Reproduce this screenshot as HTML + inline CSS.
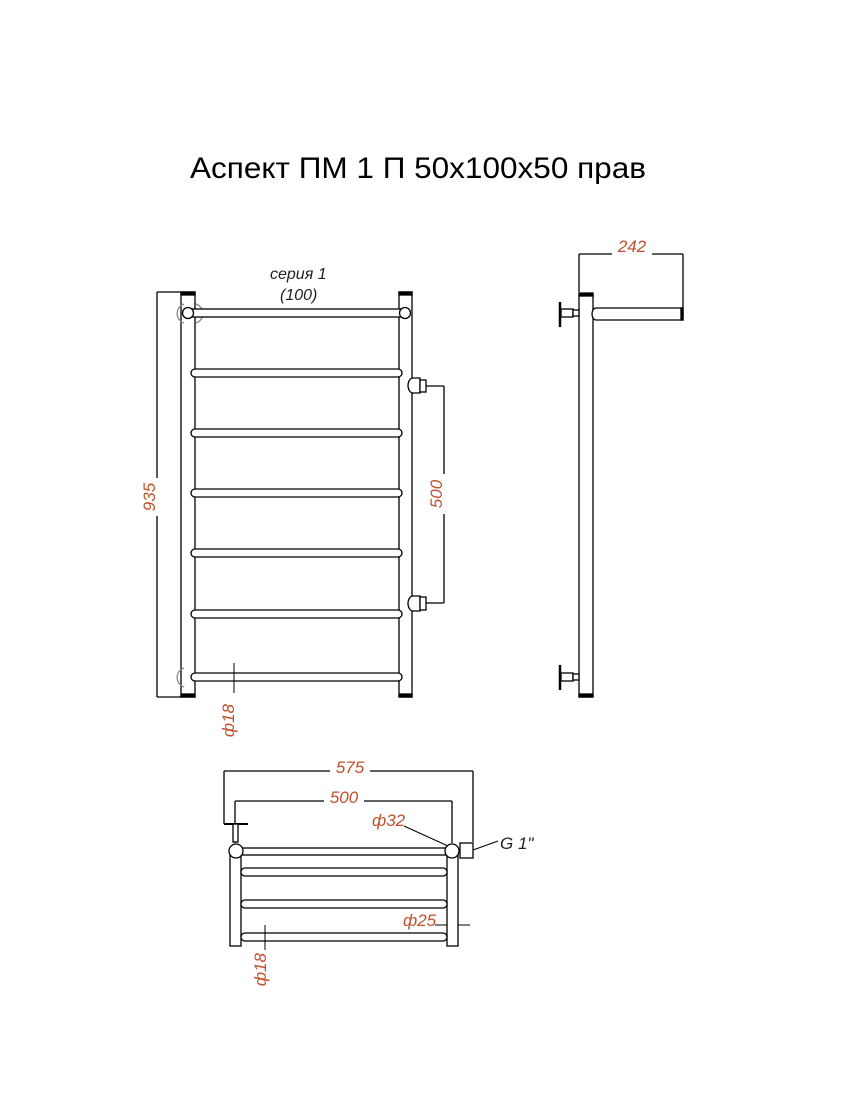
<!DOCTYPE html>
<html><head><meta charset="utf-8"><style>
html,body{margin:0;padding:0;background:#fff;width:850px;height:1112px;overflow:hidden}
svg{display:block}
.d{fill:#c0502a;font-family:"Liberation Sans",sans-serif;font-style:italic;font-size:17px}
</style></head><body>
<svg width="850" height="1112" viewBox="0 0 850 1112" xmlns="http://www.w3.org/2000/svg">
<text x="190" y="178" font-family="Liberation Sans, sans-serif" font-size="30" textLength="456" lengthAdjust="spacingAndGlyphs" fill="#000">Аспект ПМ 1 П 50х100х50 прав</text>

<g stroke="#000" stroke-width="1.3" fill="none">
<!-- front view -->
<line x1="157" y1="292" x2="157" y2="697"/>
<line x1="157" y1="292" x2="181" y2="292"/>
<line x1="157" y1="697" x2="181" y2="697"/>
<rect x="181" y="292" width="14" height="405" fill="#fff"/>
<rect x="399" y="292" width="13" height="405" fill="#fff"/>
<rect x="181" y="292" width="14" height="3" fill="#000"/>
<rect x="399" y="292" width="13" height="3" fill="#000"/>
<rect x="181" y="694" width="14" height="3" fill="#000"/>
<rect x="399" y="694" width="13" height="3" fill="#000"/>
<path d="M184 304 A10 10 0 0 0 184 323" stroke="#888"/>
<path d="M196 304 A10 10 0 0 1 196 323" stroke="#888"/>
<path d="M184 668 A10 10 0 0 0 184 687" stroke="#888"/>
<rect x="188" y="309" width="217" height="8" fill="#fff"/>
<circle cx="188" cy="313" r="5.5" fill="#fff"/>
<circle cx="405" cy="313" r="5.5" fill="#fff"/>
<rect x="191" y="369" width="211" height="8" rx="4" fill="#fff"/>
<rect x="191" y="429" width="211" height="8" rx="4" fill="#fff"/>
<rect x="191" y="489" width="211" height="8" rx="4" fill="#fff"/>
<rect x="191" y="549" width="211" height="8" rx="4" fill="#fff"/>
<rect x="191" y="610" width="211" height="8" rx="4" fill="#fff"/>
<rect x="191" y="673" width="211" height="8" rx="4" fill="#fff"/>
<path d="M420 378 H413 A5 7.5 0 0 0 413 393 H420 Z" fill="#fff"/>
<rect x="420" y="380" width="6" height="12" fill="#fff"/>
<path d="M420 596 H413 A5 7.5 0 0 0 413 611 H420 Z" fill="#fff"/>
<rect x="420" y="597" width="6" height="13" fill="#fff"/>
<line x1="426" y1="386" x2="444" y2="386"/>
<line x1="426" y1="603" x2="444" y2="603"/>
<line x1="444" y1="386" x2="444" y2="603"/>
<line x1="234" y1="663" x2="234" y2="693" stroke-width="1"/>

<!-- side view -->
<line x1="579" y1="254" x2="683" y2="254"/>
<line x1="579" y1="254" x2="579" y2="292"/>
<line x1="683" y1="254" x2="683" y2="308"/>
<rect x="579" y="295" width="14" height="402" fill="#fff"/>
<rect x="579" y="293" width="14" height="3" fill="#000"/>
<rect x="579" y="694" width="14" height="3" fill="#000"/>
<path d="M596 308 H683 V320 H596 A4 6 0 0 1 596 308 Z" fill="#fff"/>
<rect x="681" y="308" width="2" height="12" fill="#000"/>
<line x1="560" y1="302" x2="560" y2="327" stroke-width="2.5"/>
<rect x="561" y="309" width="12" height="8" fill="#fff"/>
<rect x="573" y="310" width="6" height="6" fill="#fff"/>
<line x1="560" y1="665" x2="560" y2="690" stroke-width="2.5"/>
<rect x="561" y="673" width="12" height="8" fill="#fff"/>
<rect x="573" y="674" width="6" height="6" fill="#fff"/>

<!-- top view -->
<line x1="224" y1="771" x2="473" y2="771"/>
<line x1="224" y1="771" x2="224" y2="824"/>
<line x1="473" y1="771" x2="473" y2="842"/>
<line x1="224" y1="824" x2="248" y2="824" stroke-width="2"/>
<line x1="235" y1="801" x2="452" y2="801"/>
<line x1="235" y1="801" x2="235" y2="843"/>
<line x1="452" y1="801" x2="452" y2="843"/>
<rect x="233" y="824" width="5" height="18" fill="#fff"/>
<rect x="230" y="850" width="11" height="96" fill="#fff"/>
<rect x="447" y="850" width="11" height="96" fill="#fff"/>
<rect x="241" y="848" width="206" height="7" fill="#fff"/>
<rect x="241" y="868" width="206" height="8" rx="4" fill="#fff"/>
<rect x="241" y="900" width="206" height="8" rx="4" fill="#fff"/>
<rect x="241" y="933" width="206" height="8" rx="4" fill="#fff"/>
<circle cx="236" cy="851" r="7" fill="#fff"/>
<circle cx="452" cy="851" r="7" fill="#fff"/>
<rect x="460" y="843" width="13" height="15" fill="#fff"/>
<line x1="404" y1="826" x2="448" y2="846" stroke-width="1"/>
<line x1="473" y1="850" x2="498" y2="841" stroke-width="1"/>
<line x1="435" y1="925" x2="447" y2="925" stroke-width="1"/>
<line x1="458" y1="925" x2="470" y2="925" stroke-width="1"/>
<line x1="265" y1="925" x2="265" y2="950" stroke-width="1"/>
</g>

<rect x="148" y="478" width="16" height="38" fill="#fff"/>
<rect x="435" y="474" width="16" height="40" fill="#fff"/>
<rect x="612" y="246" width="40" height="14" fill="#fff"/>
<rect x="330" y="764" width="40" height="14" fill="#fff"/>
<rect x="324" y="794" width="40" height="14" fill="#fff"/>
<text class="d" x="270" y="279" style="fill:#222;font-size:16px">серия 1</text>
<text class="d" x="280" y="300" style="fill:#222;font-size:16px">(100)</text>
<text class="d" transform="translate(155,497) rotate(-90)" text-anchor="middle">935</text>
<text class="d" transform="translate(442,494) rotate(-90)" text-anchor="middle">500</text>
<text class="d" transform="translate(234,704) rotate(-90)" text-anchor="end">ф18</text>
<text class="d" x="632" y="252" text-anchor="middle">242</text>
<text class="d" x="350" y="773" text-anchor="middle">575</text>
<text class="d" x="344" y="803" text-anchor="middle">500</text>
<text class="d" x="372" y="826">ф32</text>
<text class="d" x="403" y="926">ф25</text>
<text class="d" x="500" y="849" style="fill:#222">G 1"</text>
<text class="d" transform="translate(266,953) rotate(-90)" text-anchor="end">ф18</text>
</svg>
</body></html>
